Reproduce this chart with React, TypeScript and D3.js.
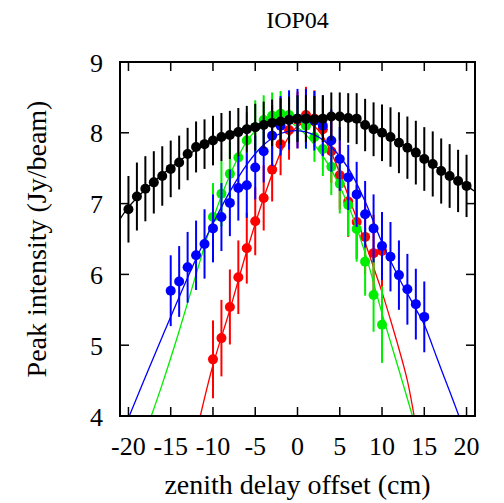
import React from "react";
import * as d3 from "d3";

const W = 504;
const H = 503;

const xTicks = [-20, -15, -10, -5, 0, 5, 10, 15, 20];
const yTicks = [4, 5, 6, 7, 8, 9];

const blackX = [-20,-19,-18,-17,-16,-15,-14,-13,-12,-11,-10,-9,-8,-7,-6,-5,-4,-3,-2,-1,0,1,2,3,4,5,6,7,8,9,10,11,12,13,14,15,16,17,18,19,20];
const blackY = [6.92,7.10,7.21,7.30,7.39,7.49,7.58,7.70,7.80,7.84,7.89,7.94,7.97,8.01,8.05,8.08,8.11,8.14,8.16,8.18,8.20,8.20,8.19,8.20,8.23,8.23,8.21,8.20,8.11,8.05,8.00,7.94,7.86,7.79,7.72,7.63,7.56,7.46,7.39,7.32,7.25];
const blackErr = [0.47,0.48,0.46,0.44,0.42,0.40,0.38,0.37,0.36,0.35,0.35,0.34,0.34,0.34,0.33,0.33,0.33,0.33,0.33,0.33,0.33,0.33,0.33,0.33,0.34,0.34,0.35,0.36,0.37,0.38,0.40,0.42,0.43,0.44,0.45,0.45,0.46,0.46,0.45,0.44,0.44];

const greenX = [-10,-9,-8,-7,-6,-5,-4,-3,-2,-1,0,1,2,3,4,5,6,7,8,9,10];
const greenY = [6.81,7.14,7.42,7.65,7.89,8.08,8.18,8.24,8.27,8.25,8.20,8.10,7.94,7.77,7.52,7.28,6.98,6.64,6.18,5.71,5.29];
const greenErr = [0.48,0.46,0.44,0.42,0.40,0.38,0.35,0.33,0.32,0.32,0.32,0.33,0.35,0.38,0.40,0.42,0.44,0.46,0.48,0.52,0.54];

const blueX = [-15,-14,-13,-12,-11,-10,-9,-8,-7,-6,-5,-4,-3,-2,-1,0,1,2,3,4,5,6,7,8,9,10,11,12,13,14,15];
const blueY = [5.77,5.90,6.10,6.27,6.43,6.65,6.81,7.01,7.22,7.26,7.51,7.74,7.96,8.10,8.18,8.20,8.20,8.17,8.10,7.89,7.63,7.37,7.13,6.85,6.65,6.40,6.25,5.99,5.79,5.58,5.40];
const blueErr = [0.50,0.50,0.50,0.49,0.49,0.48,0.48,0.47,0.46,0.46,0.45,0.44,0.43,0.42,0.42,0.42,0.42,0.42,0.43,0.44,0.45,0.46,0.46,0.47,0.48,0.48,0.49,0.49,0.50,0.50,0.50];

const redX = [-10,-9,-8,-7,-6,-5,-4,-3,-2,-1,0,1,2,3,4,5,6,7,8,9,10];
const redY = [4.80,5.10,5.54,5.96,6.37,6.75,7.08,7.48,7.84,8.04,8.18,8.25,8.20,8.05,7.74,7.40,7.03,6.74,6.53,6.30,6.33];
const redErr = [0.55,0.54,0.53,0.52,0.50,0.48,0.46,0.45,0.44,0.42,0.40,0.40,0.40,0.42,0.45,0.48,0.50,0.52,0.53,0.54,0.55];

// fitted curves
const blackFitX = [-21,-20,-18,-16,-14,-12,-10,-8,-6,-4,-2,0,2,4,6,8,10,12,14,16,18,20,21];
const blackFitY = [6.78,6.95,7.20,7.41,7.60,7.76,7.89,8.00,8.08,8.14,8.19,8.22,8.23,8.23,8.19,8.12,8.01,7.87,7.71,7.55,7.39,7.25,7.17];

const greenFitX = [-17.3,-16,-14,-12,-10,-8,-6,-4,-3,-2,-1,0,1,2,3,4,6,8,10,12,13.6];
const greenFitY = [4.0,4.45,5.2,6.0,6.78,7.40,7.88,8.13,8.19,8.20,8.16,8.08,7.97,7.83,7.67,7.48,6.98,6.30,5.45,4.65,4.0];

const blueFitX = [-19.9,-18,-16,-14,-12,-10,-8,-6,-4,-2,0,2,4,6,8,10,12,13,14,15,16,17,18,19.1];
const blueFitY = [4.0,4.55,5.12,5.68,6.22,6.72,7.17,7.55,7.83,7.99,8.03,7.97,7.80,7.50,7.03,6.45,5.95,5.73,5.51,5.29,4.98,4.66,4.35,4.0];

const redFitX = [-11.5,-10,-8,-6,-4,-2,-1,0,1,2,3,4,5,6,7,8,9,10,11,12,13,13.8];
const redFitY = [4.0,4.72,5.50,6.33,7.08,7.72,7.95,8.09,8.14,8.09,7.95,7.72,7.43,7.11,6.79,6.45,6.10,5.75,5.36,4.95,4.50,4.0];

const FONT = "Liberation Serif";
const txt = { fontFamily: FONT, fill: "#000" } as React.CSSProperties;

export default function App() {
  const left = 120, right = 475, top = 62, bottom = 416;
  const x = d3.scaleLinear().domain([-21, 21]).range([left, right]);
  const y = d3.scaleLinear().domain([4, 9]).range([bottom, top]);

  const line = d3
    .line<[number, number]>()
    .x((d) => x(d[0]))
    .y((d) => y(d[1]))
    .curve(d3.curveCatmullRom.alpha(0.5));

  const series = [
    { color: "#ff0000", xs: redX, ys: redY, es: redErr, fx: redFitX, fy: redFitY },
    { color: "#00ee00", xs: greenX, ys: greenY, es: greenErr, fx: greenFitX, fy: greenFitY },
    { color: "#0000ff", xs: blueX, ys: blueY, es: blueErr, fx: blueFitX, fy: blueFitY },
    { color: "#000000", xs: blackX, ys: blackY, es: blackErr, fx: blackFitX, fy: blackFitY },
  ];

  const tickLen = 9;

  return (
    <svg width={W} height={H} style={{ position: "absolute", left: 0, top: 0 }}>
      <defs>
        <clipPath id="plotclip">
          <rect x={left} y={top} width={right - left} height={bottom - top} />
        </clipPath>
      </defs>
      <rect x={0} y={0} width={W} height={H} fill="#fff" />
      <text x={(left + right) / 2} y={28} textAnchor="middle" fontSize={24} style={txt}>IOP04</text>

      {xTicks.map((t) => (
        <g key={"xt" + t}>
          <line x1={x(t)} x2={x(t)} y1={bottom} y2={bottom - tickLen} stroke="#000" strokeWidth={1.5} />
          <line x1={x(t)} x2={x(t)} y1={top} y2={top + tickLen} stroke="#000" strokeWidth={1.5} />
          <text x={x(t)} y={455} textAnchor="middle" fontSize={26} style={txt}>{t}</text>
        </g>
      ))}
      {yTicks.map((t) => (
        <g key={"yt" + t}>
          <line x1={left} x2={left + tickLen} y1={y(t)} y2={y(t)} stroke="#000" strokeWidth={1.5} />
          <line x1={right} x2={right - tickLen} y1={y(t)} y2={y(t)} stroke="#000" strokeWidth={1.5} />
          <text x={103} y={y(t) + 9.5} textAnchor="end" fontSize={26} style={txt}>{t}</text>
        </g>
      ))}

      <g clipPath="url(#plotclip)">
        {series.map((s, si) => (
          <g key={"s" + si}>
            {s.xs.map((xv, i) => (
              <line
                key={"e" + i}
                x1={x(xv)}
                x2={x(xv)}
                y1={y(s.ys[i] - s.es[i])}
                y2={y(s.ys[i] + s.es[i])}
                stroke={s.color}
                strokeWidth={2}
              />
            ))}
            <path
              d={line(s.fx.map((v, i) => [v, s.fy[i]] as [number, number])) || ""}
              fill="none"
              stroke={s.color}
              strokeWidth={1.3}
            />
            {s.xs.map((xv, i) => (
              <circle key={"p" + i} cx={x(xv)} cy={y(s.ys[i])} r={5} fill={s.color} />
            ))}
          </g>
        ))}
      </g>

      <rect x={left} y={top} width={right - left} height={bottom - top} fill="none" stroke="#000" strokeWidth={2} />

      <text x={(left + right) / 2} y={494} textAnchor="middle" fontSize={28} style={txt}>zenith delay offset (cm)</text>
      <text transform={`translate(46,${(top + bottom) / 2}) rotate(-90)`} textAnchor="middle" fontSize={28} style={txt}>
        Peak intensity (Jy/beam)
      </text>
    </svg>
  );
}
